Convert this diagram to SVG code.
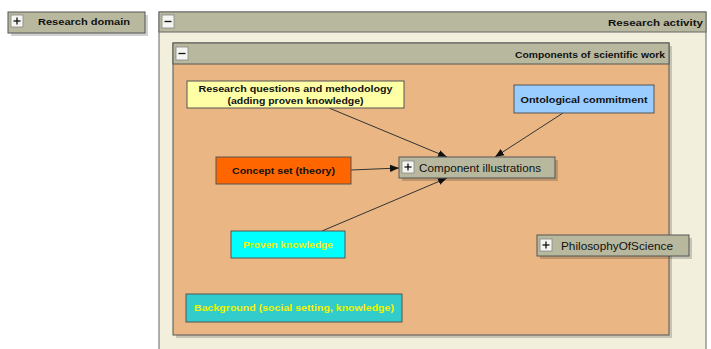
<svg xmlns="http://www.w3.org/2000/svg" width="711" height="349" viewBox="0 0 711 349">
  <defs>
    <style>
      .lbl { font-family: "Liberation Sans", Arial, sans-serif; font-size: 9px; font-weight: bold; fill: #111; }
      .big { font-family: "Liberation Sans", Arial, sans-serif; font-size: 10.5px; fill: #111; }
      .yel { fill: #f4f400; }
      .node { stroke: #555; stroke-width: 1; }
      .pkg { fill: #b8b89e; stroke: #555; stroke-width: 1; }
      .shadow { fill: #000; opacity: 0.18; }
      .btn { fill: #f4f4f0; stroke: #888; stroke-width: 0.8; }
      .sym { stroke: #111; stroke-width: 1.3; }
      .edge { stroke: #333; stroke-width: 1; fill: none; marker-end: url(#arrow); }
    </style>
    <marker id="arrow" viewBox="0 0 10 10" refX="10" refY="5" markerWidth="9" markerHeight="9" markerUnits="userSpaceOnUse" orient="auto">
      <path d="M0,1 L10,5 L0,9 z" fill="#111"/>
    </marker>
  </defs>

  <rect width="711" height="349" fill="#ffffff"/>

  <!-- collapsed package: Research domain -->
  <g id="research-domain">
    <rect class="shadow" x="11" y="15" width="137" height="21"/>
    <rect class="pkg" x="8" y="12" width="137" height="21"/>
    <rect class="btn" x="11" y="15" width="12" height="12"/>
    <line class="sym" x1="13.5" y1="21" x2="20.5" y2="21"/><line class="sym" x1="17" y1="17.5" x2="17" y2="24.5"/>
    <text class="lbl" x="38" y="25" textLength="92" lengthAdjust="spacingAndGlyphs">Research domain</text>
  </g>

  <!-- expanded package: Research activity -->
  <g id="research-activity">
    <rect x="159" y="12" width="547" height="345" fill="#f2f0dc" stroke="#666" stroke-width="1"/>
    <rect x="159" y="12" width="547" height="20" fill="#b8b89e" stroke="#666" stroke-width="1"/>
    <rect class="btn" x="162" y="15" width="12" height="13"/>
    <line class="sym" x1="164.5" y1="21.5" x2="171.5" y2="21.5"/>
    <text class="lbl" x="703" y="26" text-anchor="end" textLength="95" lengthAdjust="spacingAndGlyphs">Research activity</text>
  </g>

  <!-- expanded package: Components of scientific work -->
  <g id="components-of-scientific-work">
    <rect class="shadow" x="176" y="46" width="496" height="292"/>
    <rect x="173" y="43" width="496" height="292" fill="#eab684" stroke="#555" stroke-width="1"/>
    <rect x="173" y="43" width="496" height="21" fill="#b8b89e" stroke="#555" stroke-width="1"/>
    <rect class="btn" x="176" y="47" width="12" height="13"/>
    <line class="sym" x1="178.5" y1="53.5" x2="185.5" y2="53.5"/>
    <text class="lbl" x="665" y="58" text-anchor="end" textLength="150" lengthAdjust="spacingAndGlyphs">Components of scientific work</text>
  </g>

  <!-- connectors -->
  <g id="connectors">
    <line class="edge" x1="329" y1="108" x2="447" y2="157"/>
    <line class="edge" x1="563" y1="113" x2="495" y2="157"/>
    <line class="edge" x1="351" y1="170" x2="399" y2="168"/>
    <line class="edge" x1="322" y1="231" x2="447" y2="178"/>
  </g>

  <g id="research-questions">
    <rect class="node" x="187" y="81" width="217" height="27" fill="#ffffa6"/>
    <text class="lbl" x="295.5" y="92" text-anchor="middle" textLength="194" lengthAdjust="spacingAndGlyphs">Research questions and methodology</text>
    <text class="lbl" x="295.5" y="104" text-anchor="middle" textLength="136" lengthAdjust="spacingAndGlyphs">(adding proven knowledge)</text>
  </g>

  <g id="ontological-commitment">
    <rect class="node" x="514" y="85" width="140" height="28" fill="#99ccff"/>
    <text class="lbl" x="584" y="102.5" text-anchor="middle" textLength="127" lengthAdjust="spacingAndGlyphs">Ontological commitment</text>
  </g>

  <g id="concept-set">
    <rect class="node" x="216" y="157" width="135" height="27" fill="#ff6600"/>
    <text class="lbl" x="283.5" y="174" text-anchor="middle" textLength="103" lengthAdjust="spacingAndGlyphs">Concept set (theory)</text>
  </g>

  <g id="component-illustrations">
    <rect class="shadow" x="402" y="160" width="156" height="21"/>
    <rect class="pkg" x="399" y="157" width="156" height="21"/>
    <rect class="btn" x="402" y="161" width="12" height="12"/>
    <line class="sym" x1="404.5" y1="167" x2="411.5" y2="167"/><line class="sym" x1="408" y1="163.5" x2="408" y2="170.5"/>
    <text class="big" x="419" y="171.5" textLength="122" lengthAdjust="spacingAndGlyphs">Component illustrations</text>
  </g>

  <g id="proven-knowledge">
    <rect class="node" x="231" y="231" width="114" height="27" fill="#00ffff"/>
    <text class="lbl yel" x="288" y="248" text-anchor="middle" textLength="90" lengthAdjust="spacingAndGlyphs">Proven knowledge</text>
  </g>

  <g id="background">
    <rect class="node" x="186" y="294" width="216" height="28" fill="#33cccc"/>
    <text class="lbl yel" x="294" y="311" text-anchor="middle" textLength="200" lengthAdjust="spacingAndGlyphs">Background (social setting, knowledge)</text>
  </g>

  <g id="philosophy-of-science">
    <rect class="shadow" x="540" y="238" width="152" height="21"/>
    <rect class="pkg" x="537" y="235" width="152" height="21"/>
    <rect class="btn" x="540" y="239" width="12" height="12"/>
    <line class="sym" x1="542.5" y1="245" x2="549.5" y2="245"/><line class="sym" x1="546" y1="241.5" x2="546" y2="248.5"/>
    <text class="big" x="561" y="249.5" textLength="112" lengthAdjust="spacingAndGlyphs">PhilosophyOfScience</text>
  </g>
</svg>
